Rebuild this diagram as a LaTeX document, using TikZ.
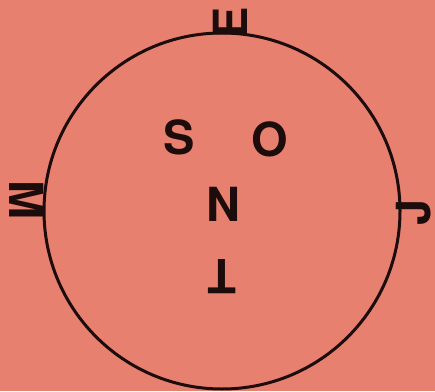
\documentclass[tikz,border=0pt]{standalone}
\usepackage{fontspec}
\setsansfont{TeX Gyre Heros}
\usepackage{tikz}
\usetikzlibrary{positioning}
\definecolor{plateGround}{RGB}{232,128,112}
\definecolor{plateInk}{RGB}{28,12,12}
\tikzset{
  % the big letters, all set in the same heavy sans
  glyph/.style={
    inner sep=0pt, text=plateInk,
    font=\fontsize{47}{47}\selectfont\sffamily\bfseries
  },
  % the ring that holds them
  ring/.style={draw=plateInk, line width=3pt},
}
\begin{document}
\begin{tikzpicture}[x=1pt, y=1pt]

% ============================ plate =======================================
\fill[plateGround] (0,0) rectangle (435,391);
\useasboundingbox (0,0) rectangle (435,391);

\coordinate (ctr) at (222,180);
\draw[ring] (ctr) circle[radius=178];

% ======================= letters on the ring ==============================
\node[glyph, rotate=90]  (east)  at (230,368) {E};
\node[glyph, rotate=-90] (west)  at (27,191)  {M};
\node[glyph, rotate=90]  (right) at (414,179) {J};

% ======================= letters inside ===================================
\node[glyph] (south) at (179,254) {S};
\node[glyph] (oval)  at (270,252) {O};
\node[glyph] (north) at (223,187) {N};
\node[glyph, rotate=180] (tee) at (222,114) {T};

\end{tikzpicture}
\end{document}
